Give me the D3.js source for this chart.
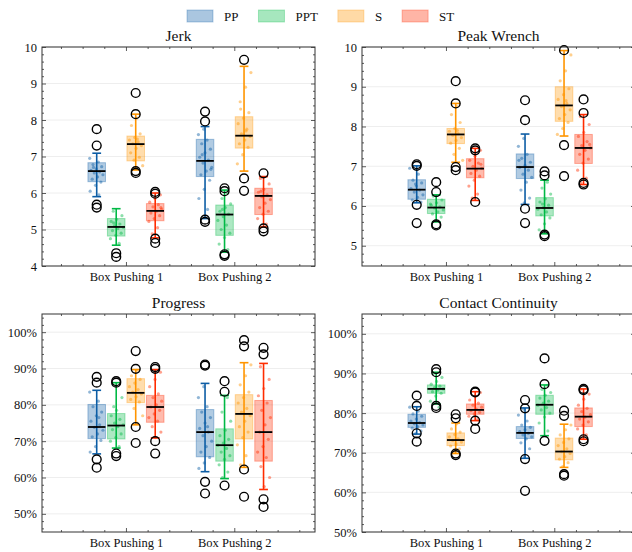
<!DOCTYPE html>
<html>
<head>
	<meta charset="utf-8">
	<script src="https://d3js.org/d3.v7.min.js"></script>
	<style>
		body { margin: 0; background: #fff; }
		svg { display: block; font-family: "Liberation Serif", "DejaVu Serif", serif; }
		.tick text { fill: #111; }
	</style>
</head>
<body>
	<svg id="chart" width="632" height="552"></svg>
	<script type="text/javascript">
		const categories = ["Box Pushing 1", "Box Pushing 2"];
		const methods = ["PP", "PPT", "S", "ST"];
		const colors = ["#0C5DA5", "#00B945", "#FF9500", "#FF2C00"];

		// rows: BP1 PP, PPT, S, ST, then BP2 PP, PPT, S, ST
		// each stat row: [low whisker, q1, median, q3, high whisker]
		const jerkStats = [
			[5.90, 6.31, 6.60, 6.83, 7.09],
			[4.57, 4.82, 5.07, 5.30, 5.57],
			[6.63, 6.88, 7.34, 7.56, 8.16],
			[4.77, 5.24, 5.51, 5.71, 6.00],
			[5.30, 6.45, 6.88, 7.47, 7.82],
			[4.38, 4.84, 5.41, 5.67, 6.08],
			[6.60, 7.23, 7.57, 8.09, 9.47],
			[5.07, 5.41, 5.92, 6.13, 6.45]
		];
		const jerkFliers = [
			[7.75, 7.30, 5.68, 5.60],
			[4.35, 4.25],
			[8.74, 8.16, 6.60, 6.55],
			[6.03, 5.98, 4.75, 4.63],
			[8.23, 7.96, 5.27, 5.21],
			[6.13, 6.05, 4.32, 4.28],
			[9.65, 6.40, 6.06],
			[6.54, 5.03, 4.95]
		];
		const jerkDots = [
			[6.95, 6.85, 6.78, 6.72, 6.66, 6.62, 6.58, 6.55, 6.50, 6.44, 6.38, 6.30, 6.21, 6.05, 5.95, 6.70],
			[5.50, 5.38, 5.28, 5.22, 5.15, 5.10, 5.06, 5.02, 4.97, 4.90, 4.84, 4.75, 4.62, 5.18],
			[8.05, 7.85, 7.62, 7.52, 7.45, 7.40, 7.35, 7.30, 7.22, 7.10, 6.98, 6.90, 6.75, 7.48],
			[5.95, 5.85, 5.75, 5.68, 5.62, 5.56, 5.50, 5.45, 5.38, 5.30, 5.22, 5.05, 4.88, 5.60],
			[7.75, 7.60, 7.45, 7.35, 7.20, 7.10, 6.98, 6.90, 6.82, 6.70, 6.60, 6.50, 6.35, 6.10, 5.85, 5.55, 7.05, 6.65],
			[6.00, 5.85, 5.70, 5.60, 5.50, 5.42, 5.35, 5.25, 5.12, 5.00, 4.90, 4.78, 4.60, 4.45, 5.55],
			[9.30, 8.90, 8.50, 8.20, 8.05, 7.90, 7.75, 7.62, 7.55, 7.45, 7.35, 7.25, 7.05, 6.80, 7.70, 8.30],
			[6.40, 6.25, 6.10, 6.02, 5.95, 5.90, 5.82, 5.72, 5.60, 5.50, 5.42, 5.30, 5.15, 6.05]
		];

		const wrenchStats = [
			[6.08, 6.17, 6.41, 6.66, 7.01],
			[5.60, 5.81, 5.96, 6.17, 6.28],
			[7.10, 7.57, 7.80, 7.95, 8.58],
			[6.14, 6.71, 6.94, 7.19, 7.45],
			[6.04, 6.69, 6.98, 7.31, 7.81],
			[5.30, 5.75, 5.95, 6.21, 6.65],
			[7.76, 8.13, 8.53, 9.00, 9.91],
			[6.54, 7.07, 7.46, 7.80, 8.30]
		];
		const wrenchFliers = [
			[7.05, 7.01, 6.03, 5.57],
			[6.60, 6.35, 5.54, 5.51],
			[9.14, 8.58, 6.98, 6.90],
			[7.45, 7.40, 6.10],
			[8.66, 8.16, 5.93, 5.57],
			[6.87, 6.77, 5.28, 5.24],
			[9.92, 7.53, 6.75],
			[8.68, 8.34, 6.58, 6.54]
		];
		const wrenchDots = [
			[6.95, 6.80, 6.65, 6.58, 6.50, 6.44, 6.40, 6.35, 6.28, 6.22, 6.15, 6.10, 6.55],
			[6.25, 6.15, 6.08, 6.02, 5.98, 5.95, 5.90, 5.85, 5.80, 5.72, 5.62, 6.05],
			[8.50, 8.30, 8.10, 7.95, 7.88, 7.82, 7.78, 7.72, 7.65, 7.58, 7.45, 7.30, 7.15, 7.90],
			[7.40, 7.25, 7.15, 7.08, 7.00, 6.95, 6.90, 6.82, 6.75, 6.65, 6.50, 6.30, 6.20, 7.05],
			[7.70, 7.50, 7.30, 7.20, 7.10, 7.02, 6.97, 6.90, 6.80, 6.72, 6.60, 6.40, 6.20, 6.08, 7.15],
			[6.60, 6.45, 6.30, 6.18, 6.10, 6.02, 5.96, 5.92, 5.85, 5.78, 5.70, 5.55, 5.40, 5.32, 6.05],
			[9.80, 9.40, 9.15, 8.95, 8.80, 8.68, 8.58, 8.50, 8.42, 8.30, 8.20, 8.10, 7.95, 7.80, 8.65],
			[8.25, 8.05, 7.85, 7.75, 7.62, 7.52, 7.46, 7.40, 7.30, 7.18, 7.08, 6.90, 6.70, 6.58, 7.55]
		];

		const progressStats = [
			[66.5, 70.7, 73.9, 80.1, 84.0],
			[68.1, 70.6, 74.3, 77.6, 86.1],
			[74.5, 80.6, 83.3, 87.2, 89.7],
			[70.9, 75.2, 79.4, 82.6, 89.7],
			[61.6, 65.7, 72.5, 78.7, 85.9],
			[59.7, 64.5, 68.9, 73.4, 82.6],
			[62.8, 70.6, 77.5, 82.8, 91.6],
			[56.7, 64.5, 72.5, 81.2, 91.4]
		];
		const progressFliers = [
			[87.7, 86.1, 65.0, 62.7],
			[86.5, 86.1, 66.6, 65.9],
			[94.8, 89.9, 73.9, 69.5],
			[90.4, 89.9, 70.0, 66.6],
			[91.1, 90.8, 58.8, 55.6],
			[86.5, 83.6, 57.8],
			[97.8, 96.1, 62.2, 54.7],
			[95.7, 93.9, 54.0, 51.9]
		];
		const progressDots = [
			[83.5, 81.0, 79.5, 78.0, 77.0, 75.5, 74.5, 73.8, 73.0, 72.0, 71.2, 70.2, 68.5, 67.0, 76.5],
			[85.5, 82.0, 78.5, 77.0, 76.0, 75.0, 74.5, 74.0, 73.2, 72.0, 71.0, 70.0, 68.5, 79.5],
			[89.5, 88.0, 87.0, 86.0, 85.0, 84.2, 83.5, 83.0, 82.2, 81.5, 80.8, 79.0, 77.0, 75.0],
			[89.0, 87.0, 85.0, 83.0, 82.0, 81.0, 80.0, 79.4, 78.5, 77.5, 76.5, 75.5, 74.0, 72.5, 71.0],
			[85.0, 82.0, 79.5, 78.0, 76.5, 75.0, 73.5, 72.5, 71.5, 70.0, 68.5, 67.0, 65.5, 64.0, 62.5, 74.0],
			[82.0, 78.0, 75.5, 73.0, 71.5, 70.5, 69.5, 68.9, 68.0, 67.0, 66.0, 65.0, 63.5, 61.5, 60.0],
			[91.0, 88.0, 85.5, 83.5, 82.0, 80.5, 79.0, 78.0, 77.0, 75.5, 74.0, 72.5, 71.0, 69.0, 66.0, 63.5],
			[90.5, 87.0, 84.5, 82.5, 80.5, 78.5, 76.5, 74.5, 72.5, 70.5, 68.5, 67.0, 65.5, 63.0, 60.0, 57.5]
		];

		const contactStats = [
			[74.7, 76.4, 77.5, 79.7, 81.6],
			[82.3, 85.0, 86.1, 87.1, 90.3],
			[69.8, 71.8, 73.2, 75.0, 77.5],
			[78.1, 79.7, 80.8, 82.3, 85.4],
			[68.6, 73.6, 75.0, 76.6, 81.3],
			[74.3, 79.7, 82.1, 84.5, 87.1],
			[66.3, 68.2, 70.3, 73.7, 77.2],
			[73.4, 76.6, 79.1, 81.3, 86.1]
		];
		const contactFliers = [
			[84.4, 81.8, 74.9, 72.8],
			[91.1, 90.3, 81.8, 81.3],
			[79.7, 78.7, 69.8, 69.4],
			[85.4, 85.2, 78.1, 76.0],
			[83.3, 81.2, 68.4, 60.4],
			[93.8, 87.3, 73.0],
			[80.6, 79.3, 64.6, 64.2],
			[86.1, 85.8, 73.4, 72.9]
		];
		const contactDots = [
			[81.5, 80.5, 79.8, 79.2, 78.5, 78.0, 77.6, 77.3, 77.0, 76.6, 76.2, 75.5, 74.8],
			[90.0, 89.0, 88.0, 87.3, 86.8, 86.4, 86.1, 85.8, 85.4, 85.0, 84.3, 83.0, 81.5],
			[77.3, 76.0, 75.2, 74.6, 74.0, 73.5, 73.1, 72.7, 72.2, 71.7, 71.0, 70.2],
			[85.2, 84.3, 83.3, 82.5, 82.0, 81.5, 81.0, 80.6, 80.2, 79.8, 79.2, 78.4],
			[81.0, 79.5, 78.0, 77.0, 76.4, 75.8, 75.3, 74.9, 74.5, 74.0, 73.5, 72.5, 71.0, 69.0],
			[87.0, 86.0, 85.2, 84.5, 83.8, 83.0, 82.5, 82.0, 81.4, 80.8, 80.0, 79.0, 77.5, 75.5],
			[77.0, 75.8, 74.5, 73.5, 72.6, 71.8, 71.0, 70.3, 69.8, 69.0, 68.4, 67.5, 66.5],
			[86.0, 84.8, 83.5, 82.0, 81.2, 80.4, 79.6, 79.0, 78.5, 77.8, 77.0, 76.0, 74.5, 73.6]
		];

		const jerkTicks = [4, 5, 6, 7, 8, 9, 10];
		const wrenchTicks = [5, 6, 7, 8, 9, 10];
		const percentTicks = [50, 60, 70, 80, 90, 100];

		let svg = d3.select("#chart");

		let panels = [
			{ title: "Jerk", stats: jerkStats, fliers: jerkFliers, dots: jerkDots,
			  domain: [4, 10], ticks: jerkTicks, minorStep: 0.2, pct: false, x: 42, y: 47, w: 273, h: 219 },
			{ title: "Peak Wrench", stats: wrenchStats, fliers: wrenchFliers, dots: wrenchDots,
			  domain: [4.49, 10], ticks: wrenchTicks, minorStep: 0.2, pct: false, x: 362, y: 47, w: 273, h: 219 },
			{ title: "Progress", stats: progressStats, fliers: progressFliers, dots: progressDots,
			  domain: [45, 105], ticks: percentTicks, minorStep: 2, pct: true, x: 42, y: 314, w: 273, h: 218 },
			{ title: "Contact Continuity", stats: contactStats, fliers: contactFliers, dots: contactDots,
			  domain: [50, 105], ticks: percentTicks, minorStep: 2, pct: true, x: 362, y: 314, w: 273, h: 218 }
		];

		function draw_panel(p)
		{
			let g = svg.append("g").attr("transform", "translate(" + p.x + "," + p.y + ")");
			let x = d3.scaleLinear().domain([-0.775, 1.745]).range([0, p.w]);
			let y = d3.scaleLinear().domain(p.domain).range([p.h, 0]);
			let band = d3.scaleBand().domain(methods).range([-0.36, 0.36]);
			let boxW = x(band.bandwidth() * 0.9) - x(0);

			// grid
			g.selectAll(".grid").data(p.ticks).join("line")
				.attr("x1", 0).attr("x2", p.w)
				.attr("y1", d => y(d)).attr("y2", d => y(d))
				.attr("stroke", "#ececec").attr("stroke-width", 0.9);

			let minorY = d3.range(Math.ceil(p.domain[0] / p.minorStep) * p.minorStep, p.domain[1] + 1e-9, p.minorStep)
				.filter(v => !p.ticks.some(t => Math.abs(t - v) < 1e-6));
			let majorX = [0, 1];
			let minorX = d3.range(-0.6, 1.7, 0.2).filter(v => Math.abs(v) > 1e-6 && Math.abs(v - 1) > 1e-6);

			// boxes
			p.stats.forEach((s, i) => {
				let cat = Math.floor(i / 4), m = i % 4;
				let cx = x(cat + band(methods[m]) + band.bandwidth() / 2);
				let col = colors[m];
				let bg = g.append("g");
				bg.append("rect")
					.attr("x", cx - boxW / 2).attr("width", boxW)
					.attr("y", y(s[3])).attr("height", y(s[1]) - y(s[3]))
					.attr("fill", col).attr("fill-opacity", 0.32)
					.attr("stroke", col).attr("stroke-opacity", 0.35).attr("stroke-width", 1);
				bg.append("line")
					.attr("x1", cx).attr("x2", cx)
					.attr("y1", y(s[0])).attr("y2", y(s[4]))
					.attr("stroke", col).attr("stroke-width", 1.6);
				[s[0], s[4]].forEach(v => {
					bg.append("line")
						.attr("x1", cx - boxW / 4).attr("x2", cx + boxW / 4)
						.attr("y1", y(v)).attr("y2", y(v))
						.attr("stroke", col).attr("stroke-width", 1.6);
				});
				bg.selectAll(".dot").data(p.dots[i]).join("circle")
					.attr("cx", (d, k) => cx + (((k * 0.618034 + m * 0.29 + cat * 0.41) % 1) - 0.5) * boxW * 0.8)
					.attr("cy", d => y(d))
					.attr("r", 1.6)
					.attr("fill", col).attr("fill-opacity", 0.45);
				bg.append("line")
					.attr("x1", cx - boxW / 2).attr("x2", cx + boxW / 2)
					.attr("y1", y(s[2])).attr("y2", y(s[2]))
					.attr("stroke", "#000").attr("stroke-width", 1.8);
				bg.selectAll(".flier").data(p.fliers[i]).join("circle")
					.attr("cx", cx).attr("cy", d => y(d))
					.attr("r", 4.4)
					.attr("fill", "none").attr("stroke", "#000").attr("stroke-width", 1.4);
			});

			// axes, ticks inside on all four sides
			let fmt = p.pct ? (d => d + "%") : d3.format("d");
			let axes = [
				[d3.axisLeft(y).tickValues(p.ticks).tickSize(-4).tickPadding(5).tickFormat(fmt), 0, 0],
				[d3.axisLeft(y).tickValues(minorY).tickSize(-2).tickFormat(""), 0, 0],
				[d3.axisRight(y).tickValues(p.ticks).tickSize(-4).tickFormat(""), p.w, 0],
				[d3.axisRight(y).tickValues(minorY).tickSize(-2).tickFormat(""), p.w, 0],
				[d3.axisBottom(x).tickValues(majorX).tickSize(-4).tickPadding(6).tickFormat((d, i) => categories[i]), 0, p.h],
				[d3.axisBottom(x).tickValues(minorX).tickSize(-2).tickFormat(""), 0, p.h],
				[d3.axisTop(x).tickValues(majorX).tickSize(-4).tickFormat(""), 0, 0],
				[d3.axisTop(x).tickValues(minorX).tickSize(-2).tickFormat(""), 0, 0]
			];
			axes.forEach(a => {
				let ag = g.append("g").attr("transform", "translate(" + a[1] + "," + a[2] + ")").call(a[0]);
				ag.attr("font-family", null).attr("font-size", null);
				ag.select(".domain").remove();
				ag.selectAll("line").attr("stroke", "#333").attr("stroke-width", 0.8);
				ag.selectAll("text").style("font-size", "12.5px");
			});
			g.append("rect").attr("x", 0).attr("y", 0).attr("width", p.w).attr("height", p.h)
				.attr("fill", "none").attr("stroke", "#333").attr("stroke-width", 1);

			g.append("text")
				.attr("x", p.w / 2).attr("y", -6)
				.attr("text-anchor", "middle")
				.style("font-size", "15.5px").attr("fill", "#111")
				.text(p.title);
		}

		panels.forEach(draw_panel);

		// legend
		let lx = 187;
		methods.forEach((m, i) => {
			svg.append("rect")
				.attr("x", lx).attr("y", 10).attr("width", 26).attr("height", 12)
				.attr("fill", colors[i]).attr("fill-opacity", 0.35)
				.attr("stroke", colors[i]).attr("stroke-opacity", 0.3);
			let t = svg.append("text")
				.attr("x", lx + 37).attr("y", 20.5)
				.style("font-size", "13px").attr("fill", "#111")
				.text(m);
			lx += 37 + t.node().getComputedTextLength() + 20;
		});
	</script>
</body>
</html>
